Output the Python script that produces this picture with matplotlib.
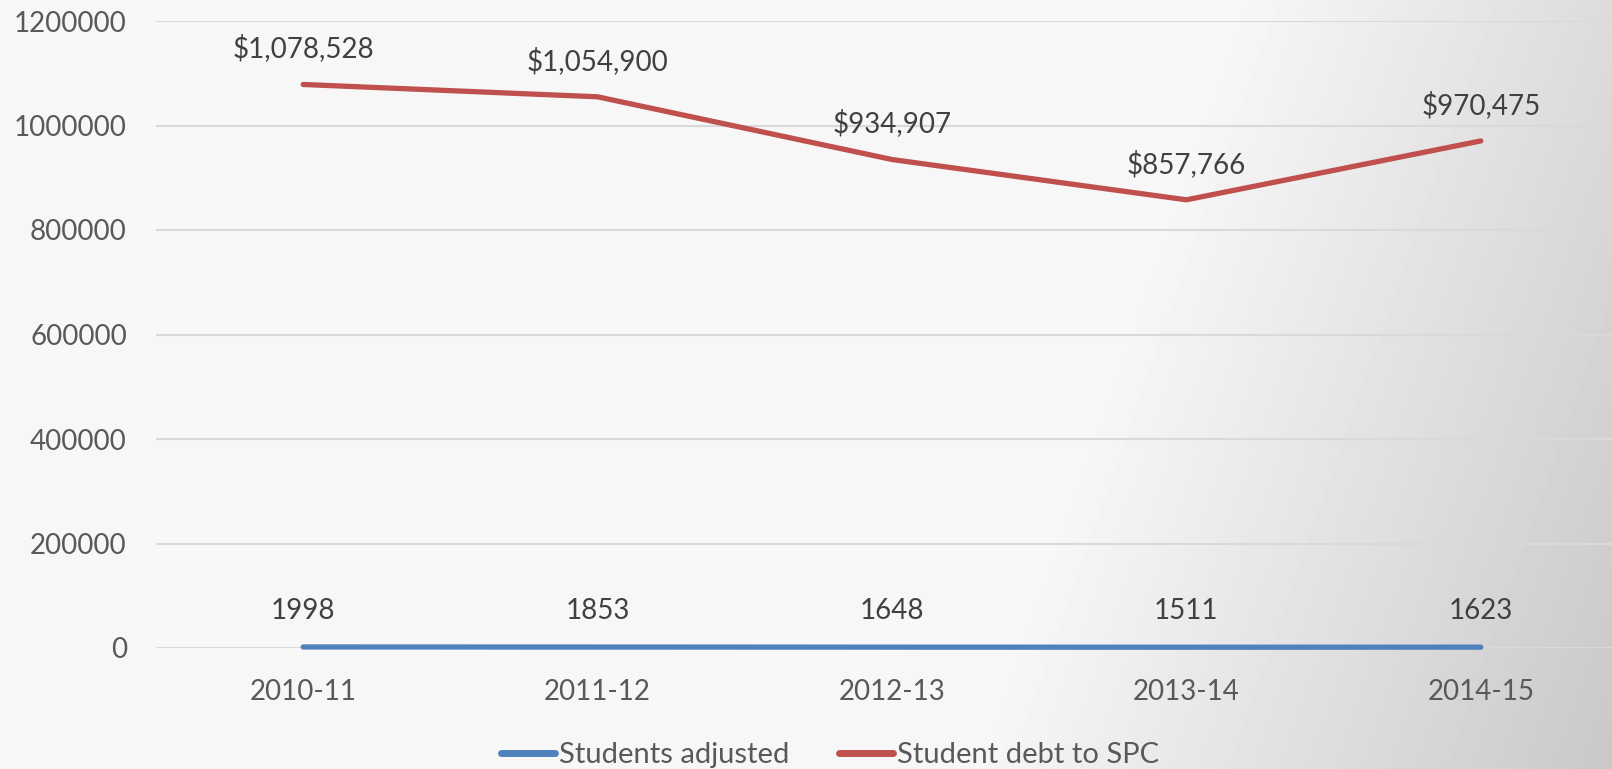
import numpy as np
import matplotlib
matplotlib.use("Agg")
import matplotlib.pyplot as plt
from matplotlib.ticker import FuncFormatter

categories = ["2010-11", "2011-12", "2012-13", "2013-14", "2014-15"]
students_adjusted = [1998, 1853, 1648, 1511, 1623]
student_debt = [1078528, 1054900, 934907, 857766, 970475]
debt_labels = ["$1,078,528", "$1,054,900", "$934,907", "$857,766", "$970,475"]
student_labels = ["1998", "1853", "1648", "1511", "1623"]
yticks = [0, 200000, 400000, 600000, 800000, 1000000, 1200000]

plt.rcParams['font.family'] = ['Lato', 'DejaVu Sans']

W, H = 1612, 769
fig = plt.figure(figsize=(W / 100, H / 100), dpi=100)

# background gradient
bg = fig.add_axes([0, 0, 1, 1], zorder=0)
xx, yy = np.meshgrid(np.arange(W), np.arange(H))
s = xx + 0.35 * yy
val = np.clip(247 - (s - 1238) * 0.073, 200, 247) / 255.0
bg.imshow(val, cmap="gray", vmin=0, vmax=1, aspect="auto", interpolation="bilinear")
bg.axis("off")

left = 156 / W
bottom = 1 - 648 / H
width = (1628 - 156) / W
height = (648 - 21) / H
ax = fig.add_axes([left, bottom, width, height], zorder=1)
ax.patch.set_alpha(0)

x = np.arange(len(categories))
blue = "#4f81bd"
red = "#c0504d"
ax.plot(x, students_adjusted, color=blue, lw=3.8, solid_capstyle="round",
        label="Students adjusted", zorder=3, clip_on=False)
ax.plot(x, student_debt, color=red, lw=3.8, solid_capstyle="round",
        label="Student debt to SPC", zorder=3, clip_on=False)

for xi, v, t in zip(x, student_debt, debt_labels):
    ax.annotate(t, (xi, v), xytext=(0, 26), textcoords="offset points",
                ha="center", va="center", fontsize=20, color="#404040")
for xi, v, t in zip(x, students_adjusted, student_labels):
    ax.annotate(t, (xi, v), xytext=(0, 26), textcoords="offset points",
                ha="center", va="center", fontsize=20, color="#404040")

ax.set_xlim(-0.5, 4.5)
ax.set_ylim(0, 1200000)
ax.set_yticks(yticks)
ax.yaxis.set_major_formatter(FuncFormatter(lambda v, p: f"{int(v)}"))
ax.set_xticks(x)
ax.set_xticklabels(categories)
ax.tick_params(axis="both", length=0, labelsize=20, labelcolor="#595959")
ax.tick_params(axis="y", pad=21)
ax.tick_params(axis="x", pad=22)
ax.grid(axis="y", color="#d9d9d9", lw=1.5, zorder=1)
ax.set_axisbelow(True)
for sp in ax.spines.values():
    sp.set_visible(False)

leg = fig.legend(loc="center", bbox_to_anchor=(830 / W, 1 - 755 / H), ncol=2,
                 frameon=False, fontsize=21, handlelength=1.85, handletextpad=0.14,
                 columnspacing=1.68, labelcolor="#595959")
for h in leg.get_lines():
    h.set_linewidth(5)
    h.set_solid_capstyle("round")

fig.savefig("out.png", dpi=100)
